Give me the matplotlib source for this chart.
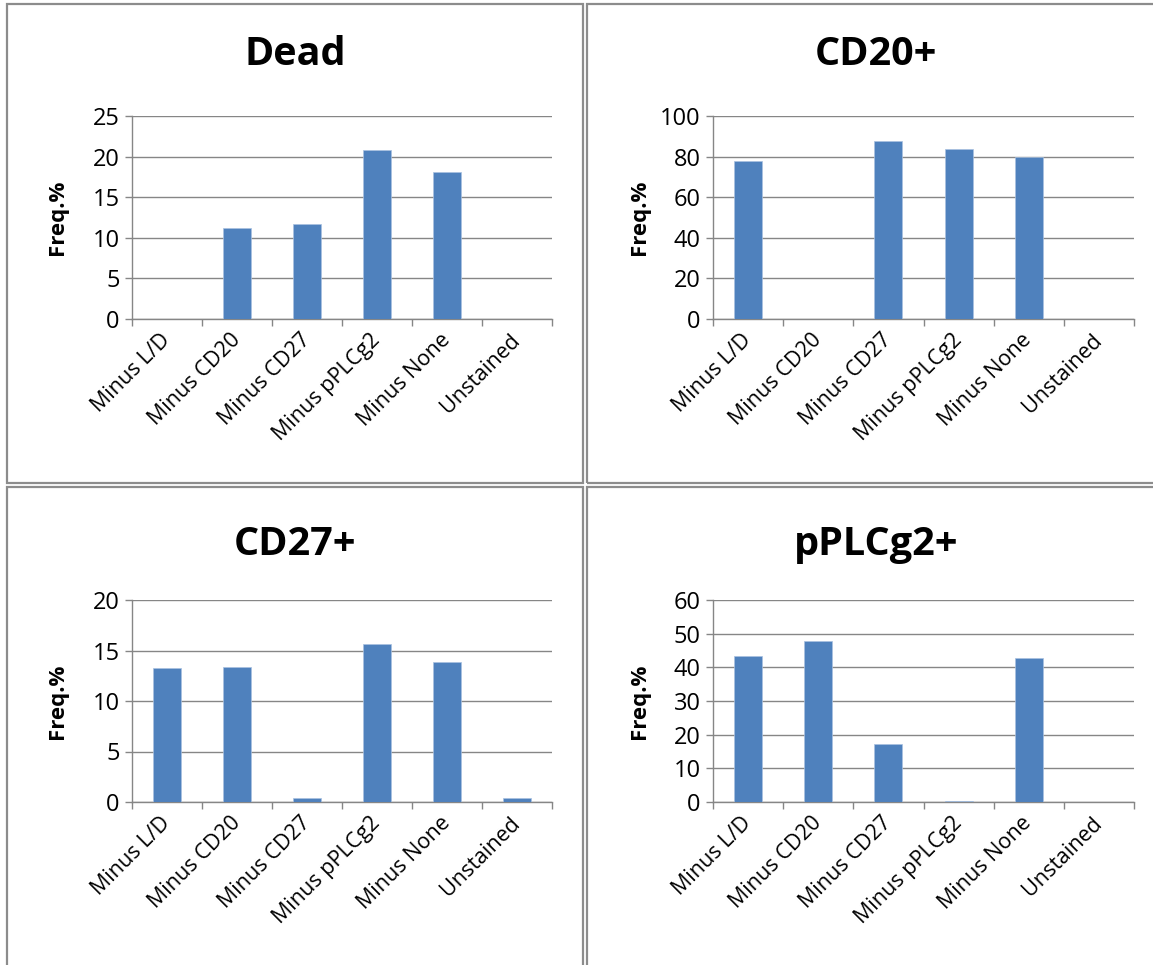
import matplotlib
matplotlib.use("Agg")
import matplotlib.pyplot as plt
import matplotlib.patches as patches
import numpy as np

# --- Data ---
categories = ["Minus L/D", "Minus CD20", "Minus CD27", "Minus pPLCg2", "Minus None", "Unstained"]

dead = [0, 11.2, 11.7, 20.8, 18.1, 0]
cd20 = [77.7, 0, 87.5, 83.6, 79.6, 0]
cd27 = [13.3, 13.4, 0.35, 15.6, 13.9, 0.35]
pplcg2 = [43.4, 47.9, 17.1, 0.2, 42.8, 0.05]

titles = ["Dead", "CD20+", "CD27+", "pPLCg2+"]
series = [dead, cd20, cd27, pplcg2]
y_max = [25, 100, 20, 60]
y_step = [5, 20, 5, 10]

# --- Style ---
W, H = 1153, 965
BAR_COLOR = "#4f81bd"
GRID_COLOR = "#868686"
FONT = "Open Sans"

plt.rcParams["font.family"] = [FONT, "DejaVu Sans"]

fig = plt.figure(figsize=(W / 100, H / 100), dpi=100)


def px_box(x0, y0, x1, y1):
    """pixel box (top-left origin) -> figure fraction [left, bottom, width, height]"""
    return [x0 / W, 1 - y1 / H, (x1 - x0) / W, (y1 - y0) / H]


# panel frames (pixels)
frames = [(7, 4, 583.5, 483.3), (586.8, 4, 1165, 483.3),
          (7, 487, 583.5, 1000), (586.8, 487, 1165, 1000)]
# plot areas (pixels)
axes_boxes = [(132, 116, 552, 319), (713, 116, 1134, 319),
              (132, 600, 552, 802), (713, 600, 1134, 802)]
title_base = [65, 65, 555, 555]
ylabel_x = [58, 639, 58, 639]

for i in range(4):
    fx0, fy0, fx1, fy1 = frames[i]
    rect = patches.Rectangle((fx0 / W, 1 - fy1 / H), (fx1 - fx0) / W, (fy1 - fy0) / H,
                             transform=fig.transFigure, fill=False,
                             edgecolor="#8c8c8c", linewidth=1.6)
    fig.add_artist(rect)

    x0, y0, x1, y1 = axes_boxes[i]
    ax = fig.add_axes(px_box(x0, y0, x1, y1))
    x = np.arange(len(categories))
    ax.bar(x, series[i], width=0.4, color=BAR_COLOR, edgecolor="#a9c1e0",
           linewidth=0.5, zorder=3)

    ax.set_xlim(-0.5, len(categories) - 0.5)
    ax.set_ylim(0, y_max[i])
    ax.set_yticks(np.arange(0, y_max[i] + 1, y_step[i]))
    ax.yaxis.grid(True, color=GRID_COLOR, linewidth=1.0, zorder=0)
    ax.set_axisbelow(True)

    # ticks between categories, labels at centres
    ax.set_xticks(np.arange(-0.5, len(categories), 1.0))
    ax.set_xticklabels([])
    ax.set_xticks(x, minor=True)
    ax.set_xticklabels(categories, minor=True, rotation=45, ha="right",
                       va="center", rotation_mode="anchor", fontsize=15.5)
    ax.tick_params(axis="x", which="major", length=5, width=1.0,
                   color=GRID_COLOR, direction="out")
    ax.tick_params(axis="x", which="minor", length=0, pad=13)
    ax.tick_params(axis="y", length=5, width=1.0, color=GRID_COLOR,
                   labelsize=17, pad=4)

    for side in ["top", "right"]:
        ax.spines[side].set_visible(False)
    for side in ["left", "bottom"]:
        ax.spines[side].set_color(GRID_COLOR)
        ax.spines[side].set_linewidth(1.0)

    fig.text(ylabel_x[i] / W, 1 - (y0 + y1) / 2 / H, "Freq.%", rotation=90,
             ha="center", va="center", fontsize=16, fontweight="bold")

    fig.text((fx0 + fx1) / 2 / W, 1 - title_base[i] / H, titles[i],
             ha="center", va="baseline", fontsize=28.5, fontweight="bold")

fig.savefig("out.png", dpi=100)
